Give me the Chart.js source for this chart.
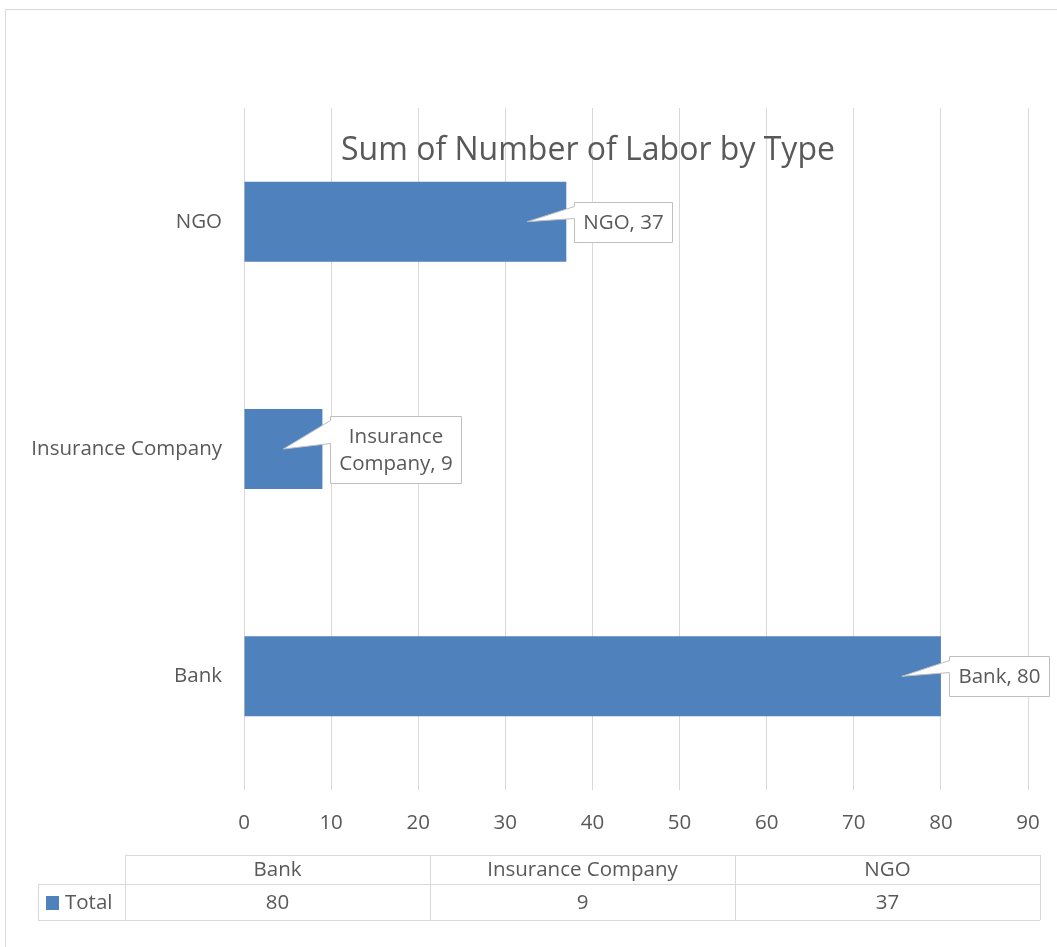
<!DOCTYPE html>
<html><head><meta charset="utf-8">
<script src="https://cdn.jsdelivr.net/npm/chart.js@4.4.0/dist/chart.umd.min.js"></script>
<style>html,body{margin:0;padding:0;background:#fff}canvas{display:block}</style>
</head><body>
<canvas id="c" width="1057" height="947"></canvas>
<script>
// ---- data ----
const categories = ['Bank', 'Insurance Company', 'NGO'];
const totals = [80, 9, 37];
const seriesName = 'Total';
const chartTitle = 'Sum of Number of Labor by Type';
const xTickMin = 0, xTickMax = 90, xTickStep = 10;

const FONT = '"Open Sans", sans-serif';
const TXT = '#595959';
const GRID = '#d9d9d9';
const BAR = '#4f81bd';
const FS = 20.5;

function wrapText(ctx, text, maxW) {
  if (ctx.measureText(text).width <= maxW) return [text];
  const words = text.split(' ');
  const lines = []; let cur = '';
  for (const w of words) {
    const t = cur ? cur + ' ' + w : w;
    if (ctx.measureText(t).width > maxW && cur) { lines.push(cur); cur = w; } else cur = t;
  }
  if (cur) lines.push(cur);
  return lines;
}

const decor = {
  id: 'decor',
  beforeDraw(chart) {
    const ctx = chart.ctx;
    ctx.save();
    ctx.fillStyle = '#fff';
    ctx.fillRect(0, 0, chart.width, chart.height);
    ctx.strokeStyle = GRID; ctx.lineWidth = 1;
    ctx.strokeRect(5.5, 9.5, 1200, 1200);
    ctx.restore();
  },
  afterDatasetsDraw(chart) {
    const ctx = chart.ctx;
    const meta = chart.getDatasetMeta(0);
    ctx.save();
    // title
    ctx.font = '32px ' + FONT;
    ctx.fillStyle = TXT; ctx.textAlign = 'center'; ctx.textBaseline = 'middle';
    ctx.fillText(chartTitle, 588, 151);
    // callouts
    ctx.font = FS + 'px ' + FONT;
    meta.data.forEach((bar, i) => {
      const label = categories[i] + ', ' + totals[i];
      const lines = wrapText(ctx, label, 130);
      const tw = Math.max(...lines.map(l => ctx.measureText(l).width));
      const w = Math.round(tw + 18), h = lines.length * 27 + 13;
      const left = Math.round(bar.x + 8) + 0.5;
      const top = Math.round(bar.y - h / 2) + 0.5;
      const tipX = bar.x - 39, tipY = bar.y;
      const y1 = top + 4, y2 = top + Math.round(h * 0.4);
      ctx.beginPath();
      ctx.moveTo(left, top);
      ctx.lineTo(left + w, top);
      ctx.lineTo(left + w, top + h);
      ctx.lineTo(left, top + h);
      ctx.lineTo(left, y2);
      ctx.lineTo(tipX, tipY);
      ctx.lineTo(left, y1);
      ctx.closePath();
      ctx.fillStyle = '#fff'; ctx.fill();
      ctx.strokeStyle = '#bfbfbf'; ctx.lineWidth = 1; ctx.stroke();
      ctx.fillStyle = TXT; ctx.textAlign = 'center'; ctx.textBaseline = 'middle';
      lines.forEach((l, k) => {
        ctx.fillText(l, left + w / 2, top + h / 2 + 1 + (k - (lines.length - 1) / 2) * 27);
      });
    });
    // data table
    const colL = 125, colR = 1040, rowTop = 855, rowMid = 884, rowBot = 920, lblL = 38;
    const colW = (colR - colL) / categories.length;
    ctx.strokeStyle = GRID; ctx.lineWidth = 1;
    ctx.beginPath();
    ctx.moveTo(colL, rowTop + 0.5); ctx.lineTo(colR, rowTop + 0.5);
    ctx.moveTo(lblL, rowMid + 0.5); ctx.lineTo(colR, rowMid + 0.5);
    ctx.moveTo(lblL, rowBot + 0.5); ctx.lineTo(colR, rowBot + 0.5);
    ctx.moveTo(lblL + 0.5, rowMid); ctx.lineTo(lblL + 0.5, rowBot);
    for (let k = 0; k <= categories.length; k++) {
      const x = Math.round(colL + k * colW) + 0.5;
      ctx.moveTo(x, rowTop); ctx.lineTo(x, rowBot);
    }
    ctx.stroke();
    ctx.font = FS + 'px ' + FONT; ctx.fillStyle = TXT;
    ctx.textAlign = 'center'; ctx.textBaseline = 'middle';
    categories.forEach((c, k) => {
      const cx = colL + (k + 0.5) * colW;
      ctx.fillText(c, cx, (rowTop + rowMid) / 2 + 1);
      ctx.fillText(String(totals[k]), cx, (rowMid + rowBot) / 2 + 1);
    });
    ctx.fillStyle = BAR;
    ctx.fillRect(46, 896, 13, 14);
    ctx.fillStyle = TXT; ctx.textAlign = 'left';
    ctx.fillText(seriesName, 65, (rowMid + rowBot) / 2 + 1);
    ctx.restore();
  }
};

new Chart(document.getElementById('c'), {
  type: 'bar',
  data: {
    labels: categories,
    datasets: [{ label: seriesName, data: totals, backgroundColor: BAR, borderWidth: 0,
      categoryPercentage: 1, barPercentage: 0.352 }]
  },
  options: {
    indexAxis: 'y',
    responsive: false,
    animation: false,
    layout: { padding: { left: 0, top: 108, right: 29, bottom: 107 } },
    plugins: { legend: { display: false }, tooltip: { enabled: false }, title: { display: false } },
    scales: {
      x: {
        min: xTickMin, max: xTickMax,
        ticks: { stepSize: xTickStep, color: TXT, font: { family: FONT, size: FS }, padding: 21 },
        grid: { color: GRID, lineWidth: 1, drawTicks: false },
        border: { display: false },
        afterFit(s) { s.height = 50; s.paddingLeft = 0; s.paddingRight = 0; }
      },
      y: {
        reverse: true,
        ticks: { color: TXT, font: { family: FONT, size: FS }, padding: 22 },
        grid: { display: false, drawTicks: false },
        border: { display: false },
        afterFit(s) { s.width = 244; s.paddingTop = 0; s.paddingBottom = 0; }
      }
    }
  },
  plugins: [decor]
});
</script>
</body></html>
